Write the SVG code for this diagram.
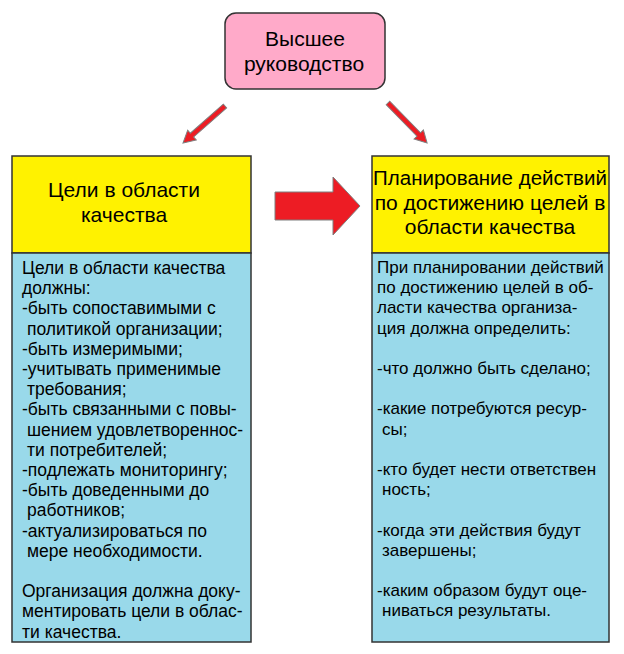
<svg xmlns="http://www.w3.org/2000/svg" width="624" height="654" viewBox="0 0 624 654">
<style>
.box{stroke:#333;stroke-width:1.5}
.head{font-family:"Liberation Sans",Arial,sans-serif;font-size:21px;fill:#000;text-anchor:middle}
.body{font-family:"Liberation Sans",Arial,sans-serif;font-size:17.5px;fill:#000}
.rb{font-size:17px}
.arr{fill:#ED1C24;stroke:#7F7F7F;stroke-width:1}
</style>
<defs>
<polygon id="small" points="0,-2.5 44,-2.5 44,-6.5 56,0 44,6.5 44,2.5 0,2.5"/>
</defs>
<rect width="624" height="654" fill="#fff"/>
<g id="connectors">
<use href="#small" class="arr" transform="translate(225,106) rotate(138.6)"/>
<use href="#small" class="arr" transform="translate(388,103) rotate(45.7)"/>
<polygon class="arr" points="275,192 333,192 333,177 360,206 333,235 333,220 275,220"/>
</g>
<g id="top">
<rect class="box" x="225" y="13" width="160" height="76" rx="11" fill="#FFAAC9"/>
<text class="head" x="305" y="46">Высшее</text>
<text class="head" x="304" y="71">руководство</text>
</g>
<g id="goals-title">
<rect class="box" x="12" y="156" width="239" height="97" fill="#FFF200"/>
<text class="head" x="124" y="197">Цели в области</text>
<text class="head" x="124" y="222">качества</text>
</g>
<g id="plan-title">
<rect class="box" x="372" y="156" width="237" height="97" fill="#FFF200"/>
<text class="head" x="490" y="185" style="font-size:20.5px">Планирование действий</text>
<text class="head" x="490" y="210">по достижению целей в</text>
<text class="head" x="490" y="234">области качества</text>
</g>
<g id="goals-body">
<rect class="box" x="12" y="253" width="239" height="389" fill="#99D9EA"/>
<text class="body">
<tspan x="22" y="274">Цели в области качества</tspan>
<tspan x="22" y="294.2">должны:</tspan>
<tspan x="22" y="314.4">-быть сопоставимыми с</tspan>
<tspan x="27" y="334.6">политикой организации;</tspan>
<tspan x="22" y="354.8">-быть измеримыми;</tspan>
<tspan x="22" y="375">-учитывать применимые</tspan>
<tspan x="27" y="395.2">требования;</tspan>
<tspan x="22" y="415.4">-быть связанными с повы-</tspan>
<tspan x="27" y="435.6">шением удовлетвореннос-</tspan>
<tspan x="27" y="455.8">ти потребителей;</tspan>
<tspan x="22" y="476">-подлежать мониторингу;</tspan>
<tspan x="22" y="496.2">-быть доведенными до</tspan>
<tspan x="27" y="516.4">работников;</tspan>
<tspan x="22" y="536.6">-актуализироваться по</tspan>
<tspan x="27" y="556.8">мере необходимости.</tspan>
<tspan x="22" y="597.2">Организация должна доку-</tspan>
<tspan x="22" y="617.4">ментировать цели в облас-</tspan>
<tspan x="22" y="637.6">ти качества.</tspan>
</text>
</g>
<g id="plan-body">
<rect class="box" x="372" y="253" width="237" height="389" fill="#99D9EA"/>
<text class="body rb">
<tspan x="377" y="273">При планировании действий</tspan>
<tspan x="377" y="293.2">по достижению целей в об-</tspan>
<tspan x="377" y="313.4">ласти качества организа-</tspan>
<tspan x="377" y="333.6">ция должна определить:</tspan>
<tspan x="377" y="374">-что должно быть сделано;</tspan>
<tspan x="377" y="414.4">-какие потребуются ресур-</tspan>
<tspan x="382" y="434.6">сы;</tspan>
<tspan x="377" y="475">-кто будет нести ответствен</tspan>
<tspan x="382" y="495.2">ность;</tspan>
<tspan x="377" y="535.6">-когда эти действия будут</tspan>
<tspan x="382" y="555.8">завершены;</tspan>
<tspan x="377" y="596.2">-каким образом будут оце-</tspan>
<tspan x="382" y="616.4">ниваться результаты.</tspan>
</text>
</g>
</svg>
